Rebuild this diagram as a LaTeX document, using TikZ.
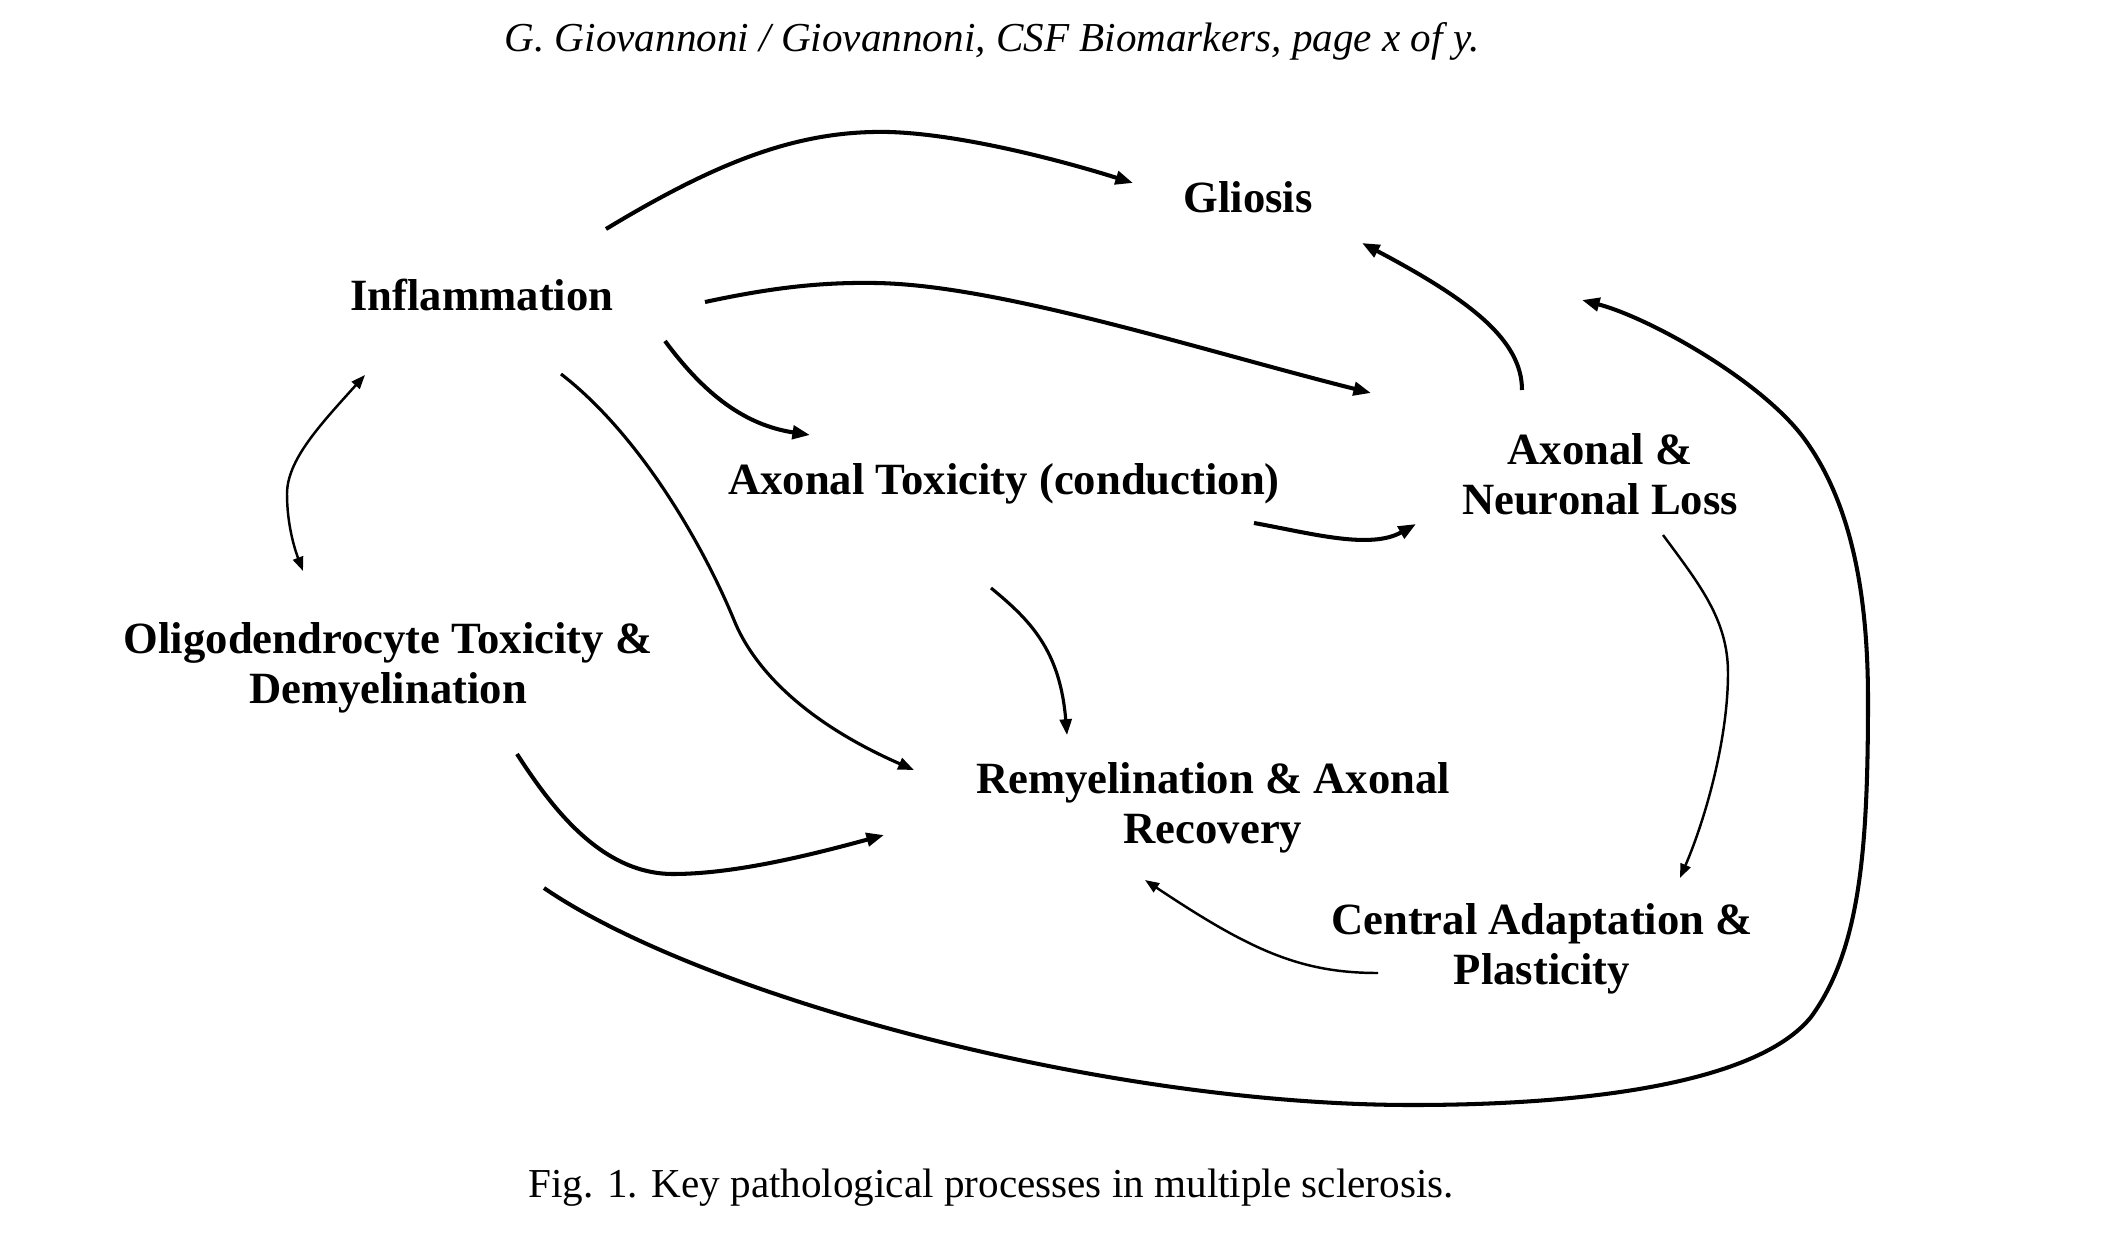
\documentclass[tikz,border=0pt]{standalone}
\usepackage{fontspec}
\setmainfont{Liberation Serif}
\usetikzlibrary{arrows.meta}
\begin{document}
\begin{tikzpicture}[x=0.01cm,y=-0.01cm,
  lbl/.style={font=\fontsize{12.7}{14.2}\selectfont\bfseries, align=center, inner sep=0pt},
  txt/.style={font=\fontsize{11.7}{14}\selectfont, inner sep=0pt},
  thk/.style={line width=1.15pt, -{Triangle[length=5pt,width=3.8pt]}},
  mid/.style={line width=0.9pt, -{Triangle[length=4.5pt,width=3.4pt]}},
  thn/.style={line width=0.7pt, -{Triangle[length=4pt,width=3pt]}},
  dbl/.style={line width=0.7pt, {Triangle[length=4pt,width=3pt]}-{Triangle[length=4pt,width=3pt]}}
]
\useasboundingbox (0,0) rectangle (2120,1242);
\fill[white] (0,0) rectangle (2120,1242);

\node[txt, anchor=base] (hdr) at (992,51) {\itshape G. Giovannoni / Giovannoni, CSF Biomarkers, page x of y.};
\node[lbl, anchor=base] (gli) at (1248,212) {Gliosis};
\node[lbl, anchor=base] (inf) at (482,310) {Inflammation};
\node[lbl, anchor=base] (axt) at (1004,494) {Axonal Toxicity (conduction)};
\node[lbl] (anl) at (1600,474) {Axonal \&\\Neuronal Loss};
\node[lbl] (oli) at (388,668) {Oligodendrocyte Toxicity \&\\Demyelination};
\node[lbl] (rem) at (1213,808) {Remyelination \& Axonal\\Recovery};
\node[lbl] (cen) at (1542,949) {Central Adaptation \&\\Plasticity};
\node[txt, anchor=base] (fig) at (991,1197) {Fig. 1. Key pathological processes in multiple sclerosis.};

% connector end points
\coordinate (inf-gli-s) at (606,229);  \coordinate (inf-gli-e) at (1133,183);
\coordinate (inf-anl-s) at (705,302);  \coordinate (inf-anl-e) at (1371,393);
\coordinate (inf-axt-s) at (665,341);  \coordinate (inf-axt-e) at (810,435);
\coordinate (inf-rem-s) at (561,374);  \coordinate (inf-rem-e) at (914,770);
\coordinate (inf-oli-s) at (365,375);  \coordinate (inf-oli-e) at (303,571);
\coordinate (oli-rem-s) at (517,754);  \coordinate (oli-rem-e) at (884,835);
\coordinate (oli-gli-s) at (544,888);  \coordinate (oli-gli-e) at (1582,300);
\coordinate (anl-gli-s) at (1522,390); \coordinate (anl-gli-e) at (1362,243);
\coordinate (axt-anl-s) at (1254,523); \coordinate (axt-anl-e) at (1416,524);
\coordinate (axt-rem-s) at (991,588);  \coordinate (axt-rem-e) at (1067,735);
\coordinate (anl-cen-s) at (1663,535); \coordinate (anl-cen-e) at (1680,878);
\coordinate (cen-rem-s) at (1378,973); \coordinate (cen-rem-e) at (1145,880);

\draw[thk] (inf-gli-s) .. controls (720,160) and (800,130) .. (889,132) .. controls (960,134) and (1060,160) .. (inf-gli-e);
\draw[thk] (inf-anl-s) .. controls (770,288) and (820,282) .. (876,283) .. controls (1000,285) and (1200,350) .. (inf-anl-e);
\draw[thk] (inf-axt-s) .. controls (705,395) and (745,425) .. (inf-axt-e);
\draw[mid] (inf-rem-s) .. controls (640,435) and (703,545) .. (734,620) .. controls (752,665) and (800,720) .. (inf-rem-e);
\draw[dbl] (inf-oli-s) .. controls (320,425) and (287,460) .. (287,494) .. controls (287,525) and (295,550) .. (inf-oli-e);
\draw[thk] (oli-rem-s) .. controls (550,805) and (600,874) .. (673,874) .. controls (730,874) and (800,858) .. (oli-rem-e);
\draw[thk] (oli-gli-s) .. controls (700,995) and (1100,1105) .. (1412,1105) .. controls (1600,1105) and (1760,1080) .. (1811,1017) .. controls (1860,950) and (1868,850) .. (1868,700) .. controls (1868,590) and (1850,500) .. (1803,437) .. controls (1760,380) and (1650,318) .. (oli-gli-e);
\draw[thk] (anl-gli-s) .. controls (1522,340) and (1470,300) .. (anl-gli-e);
\draw[thk] (axt-anl-s) .. controls (1310,533) and (1370,550) .. (axt-anl-e);
\draw[mid] (axt-rem-s) .. controls (1030,620) and (1060,650) .. (axt-rem-e);
\draw[thn] (anl-cen-s) .. controls (1700,585) and (1728,620) .. (1728,673) .. controls (1728,740) and (1705,820) .. (anl-cen-e);
\draw[thn] (cen-rem-s) .. controls (1300,973) and (1250,950) .. (cen-rem-e);
\end{tikzpicture}
\end{document}
